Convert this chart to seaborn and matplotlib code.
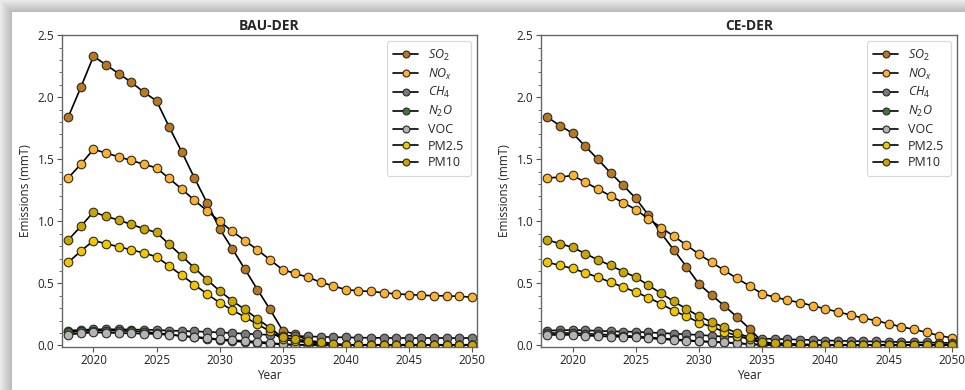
import numpy as np
import pandas as pd
import matplotlib
matplotlib.use("Agg")
import matplotlib.pyplot as plt
import seaborn as sns

years = list(range(2018, 2051))

# ---- BAU-DER ----
bau_so2 = [1.84, 2.08, 2.33, 2.26, 2.19, 2.12, 2.04, 1.97, 1.76, 1.56, 1.35, 1.15, 0.94, 0.78, 0.615,
           0.45, 0.29, 0.12, 0.09, 0.04, 0.01, 0.005, 0.005, 0.005, 0.005, 0.005, 0.005, 0.005, 0.005,
           0.005, 0.005, 0.005, 0.005]
bau_nox = [1.35, 1.46, 1.58, 1.55, 1.52, 1.49, 1.46, 1.43, 1.345, 1.26, 1.17, 1.085, 1.0, 0.92, 0.845,
           0.77, 0.69, 0.61, 0.58, 0.55, 0.51, 0.48, 0.45, 0.44, 0.435, 0.425, 0.415, 0.41, 0.405,
           0.40, 0.40, 0.395, 0.39]
bau_ch4 = [0.12, 0.125, 0.13, 0.13, 0.13, 0.128, 0.127, 0.125, 0.12, 0.117, 0.113, 0.11, 0.105, 0.1, 0.095,
           0.09, 0.085, 0.08, 0.077, 0.073, 0.07, 0.067, 0.065, 0.063, 0.062, 0.061, 0.06, 0.06, 0.06,
           0.06, 0.06, 0.06, 0.06]
bau_n2o = [0.105, 0.115, 0.12, 0.12, 0.118, 0.115, 0.11, 0.1, 0.09, 0.075, 0.065, 0.055, 0.045, 0.035, 0.028,
           0.02, 0.015, 0.008, 0.005, 0.004, 0.003, 0.003, 0.003, 0.003, 0.003, 0.003, 0.003, 0.003, 0.003,
           0.003, 0.003, 0.003, 0.003]
bau_voc = [0.088, 0.098, 0.105, 0.103, 0.1, 0.097, 0.095, 0.093, 0.085, 0.078, 0.07, 0.06, 0.05, 0.043, 0.036,
           0.03, 0.022, 0.01, 0.007, 0.005, 0.005, 0.005, 0.005, 0.005, 0.005, 0.005, 0.005, 0.005, 0.005,
           0.005, 0.005, 0.005, 0.005]
bau_pm25 = [0.67, 0.76, 0.845, 0.82, 0.795, 0.77, 0.745, 0.715, 0.64, 0.565, 0.49, 0.415, 0.345, 0.285, 0.23,
            0.17, 0.115, 0.05, 0.035, 0.025, 0.015, 0.008, 0.005, 0.005, 0.005, 0.005, 0.005, 0.005, 0.005,
            0.005, 0.005, 0.005, 0.005]
bau_pm10 = [0.85, 0.96, 1.075, 1.04, 1.01, 0.975, 0.94, 0.91, 0.815, 0.72, 0.625, 0.53, 0.44, 0.36, 0.29,
            0.215, 0.14, 0.065, 0.05, 0.037, 0.03, 0.015, 0.006, 0.006, 0.006, 0.006, 0.006, 0.006, 0.006,
            0.006, 0.006, 0.006, 0.006]

# ---- CE-DER ----
ce_so2 = [1.84, 1.77, 1.71, 1.605, 1.50, 1.39, 1.29, 1.185, 1.05, 0.905, 0.77, 0.635, 0.495, 0.405, 0.32,
          0.23, 0.135, 0.03, 0.015, 0.01, 0.005, 0.005, 0.005, 0.005, 0.005, 0.005, 0.005, 0.005, 0.005,
          0.005, 0.005, 0.005, 0.005]
ce_nox = [1.35, 1.355, 1.37, 1.315, 1.26, 1.205, 1.15, 1.095, 1.02, 0.95, 0.88, 0.81, 0.735, 0.67, 0.605,
          0.54, 0.48, 0.415, 0.39, 0.365, 0.345, 0.32, 0.295, 0.27, 0.245, 0.22, 0.20, 0.175, 0.15,
          0.13, 0.105, 0.08, 0.06]
ce_ch4 = [0.12, 0.122, 0.125, 0.122, 0.118, 0.115, 0.112, 0.11, 0.105, 0.1, 0.095, 0.09, 0.085, 0.078, 0.072,
          0.067, 0.062, 0.055, 0.053, 0.05, 0.047, 0.044, 0.04, 0.038, 0.036, 0.034, 0.032, 0.03, 0.028,
          0.026, 0.024, 0.022, 0.02]
ce_n2o = [0.1, 0.1, 0.1, 0.095, 0.09, 0.085, 0.08, 0.073, 0.065, 0.058, 0.05, 0.043, 0.035, 0.03, 0.025,
          0.018, 0.012, 0.006, 0.004, 0.003, 0.003, 0.003, 0.003, 0.003, 0.003, 0.003, 0.003, 0.003, 0.003,
          0.003, 0.003, 0.003, 0.003]
ce_voc = [0.085, 0.085, 0.085, 0.08, 0.075, 0.072, 0.069, 0.065, 0.058, 0.051, 0.044, 0.038, 0.033, 0.028, 0.024,
          0.02, 0.01, 0.005, 0.004, 0.004, 0.004, 0.004, 0.004, 0.004, 0.004, 0.004, 0.004, 0.004, 0.004,
          0.004, 0.004, 0.004, 0.004]
ce_pm25 = [0.67, 0.645, 0.62, 0.585, 0.55, 0.51, 0.47, 0.43, 0.385, 0.335, 0.28, 0.235, 0.185, 0.15, 0.11,
           0.08, 0.05, 0.02, 0.015, 0.01, 0.006, 0.005, 0.005, 0.005, 0.005, 0.005, 0.005, 0.005, 0.005,
           0.005, 0.005, 0.005, 0.005]
ce_pm10 = [0.85, 0.82, 0.79, 0.74, 0.69, 0.645, 0.595, 0.55, 0.485, 0.42, 0.355, 0.295, 0.235, 0.19, 0.145,
           0.10, 0.065, 0.025, 0.02, 0.015, 0.01, 0.007, 0.006, 0.006, 0.006, 0.006, 0.006, 0.006, 0.006,
           0.006, 0.006, 0.006, 0.006]

pollutants = ["SO2", "NOx", "CH4", "N2O", "VOC", "PM2.5", "PM10"]
legend_labels = ["$SO_2$", "$NO_x$", "$CH_4$", "$N_2O$", "VOC", "PM2.5", "PM10"]
colors = ["#b8781f", "#fdb130", "#7a7a7a", "#3c7a30", "#b4b4b4", "#f2c600", "#c9a600"]

scenarios = {
    "BAU-DER": [bau_so2, bau_nox, bau_ch4, bau_n2o, bau_voc, bau_pm25, bau_pm10],
    "CE-DER": [ce_so2, ce_nox, ce_ch4, ce_n2o, ce_voc, ce_pm25, ce_pm10],
}

rows = []
for scen, series in scenarios.items():
    for pol, vals in zip(pollutants, series):
        for y, v in zip(years, vals):
            rows.append({"Scenario": scen, "Pollutant": pol, "Year": y, "Emissions": v})
df = pd.DataFrame(rows)

sns.set_theme(style="ticks")
plt.rcParams["font.family"] = ["Open Sans", "DejaVu Sans"]
plt.rcParams["mathtext.fontset"] = "custom"
plt.rcParams["mathtext.it"] = "Open Sans:italic"
plt.rcParams["mathtext.rm"] = "Open Sans"
plt.rcParams["legend.edgecolor"] = "#d8d8d8"

fig = plt.figure(figsize=(9.65, 3.9), dpi=100)

# drop-shadow frame decoration
bg = fig.add_axes([0, 0, 1, 1], zorder=-10)
H, W = 390, 965
yy, xx = np.mgrid[0:H, 0:W]
dx = np.clip(12 - xx, 0, None)
dy = np.clip(12 - yy, 0, None)
d = np.maximum(dx, dy).astype(float)
shade = np.where(d > 0, 0.72 + 0.2 * (d / 12.0), 1.0)
img = np.dstack([shade, shade, shade])
bg.imshow(img, aspect="auto", extent=[0, 1, 0, 1], origin="upper")
bg.axis("off")

positions = [[0.0642, 0.111, 0.430, 0.799], [0.5606, 0.111, 0.431, 0.799]]

for (scen, pos) in zip(scenarios.keys(), positions):
    ax = fig.add_axes(pos)
    sub = df[df["Scenario"] == scen]
    for pol, lab, col in zip(pollutants, legend_labels, colors):
        d_ = sub[sub["Pollutant"] == pol]
        sns.lineplot(data=d_, x="Year", y="Emissions", ax=ax, color="black",
                     marker="o", markersize=6.2, markerfacecolor=col,
                     markeredgecolor="#2a2a2a", markeredgewidth=0.8,
                     linewidth=1.2, label=lab, legend=False)
    ax.set_xlim(2017.5, 2050.4)
    ax.set_ylim(-0.01, 2.5)
    ax.set_xticks([2020, 2025, 2030, 2035, 2040, 2045, 2050])
    ax.set_yticks([0.0, 0.5, 1.0, 1.5, 2.0, 2.5])
    ax.set_yticklabels(["0.0", "0.5", "1.0", "1.5", "2.0", "2.5"])
    ax.yaxis.set_minor_locator(matplotlib.ticker.MultipleLocator(0.1))
    ax.tick_params(axis="both", which="major", labelsize=8.5, length=3.5, width=0.8,
                   color="#555555", labelcolor="#222222", pad=2)
    ax.tick_params(axis="y", which="minor", length=2, width=0.6, color="#555555")
    for s in ax.spines.values():
        s.set_color("#666666")
        s.set_linewidth(1.0)
    ax.set_xlabel("Year", fontsize=8.5, color="#222222", labelpad=1)
    ax.set_ylabel("Emissions (mmT)", fontsize=8.5, color="#222222", labelpad=4)
    ax.set_title(scen, fontsize=10, fontweight="bold", pad=4)
    handles, labels = ax.get_legend_handles_labels()
    leg = ax.legend(handles, labels, loc="upper right", fontsize=9, frameon=True,
                    handlelength=2.0, labelspacing=0.3, borderpad=0.5,
                    handletextpad=0.8, markerscale=0.8, framealpha=1.0, fancybox=True)
    leg.get_frame().set_edgecolor("#d8d8d8")
    leg.get_frame().set_linewidth(0.8)

fig.savefig("out.png", dpi=100)
